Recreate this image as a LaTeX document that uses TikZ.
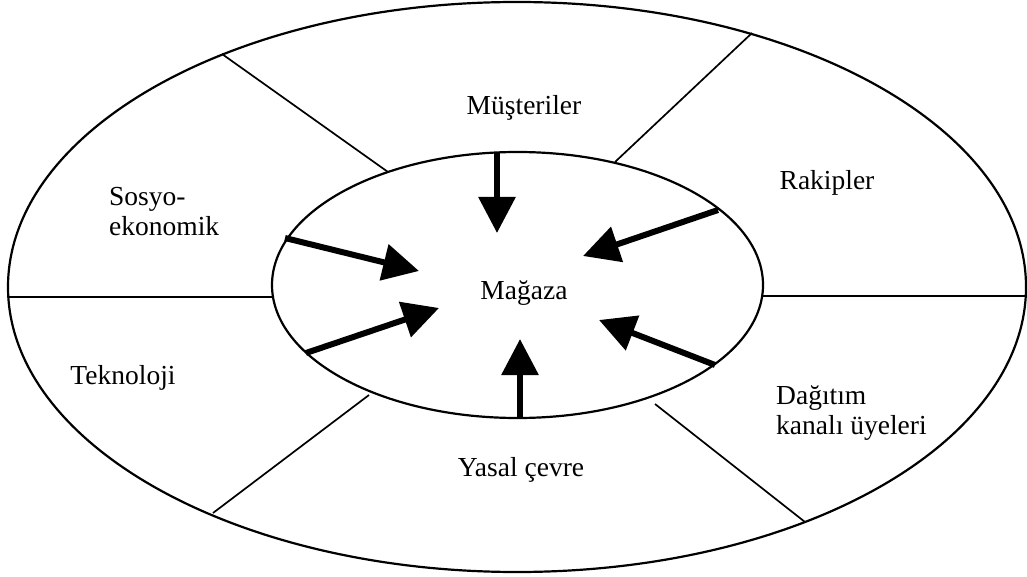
\documentclass[tikz,border=0pt]{standalone}
\usepackage{fontspec}
\setmainfont{Liberation Serif}
\usetikzlibrary{arrows.meta}
\begin{document}
\begin{tikzpicture}[x=1pt,y=-1pt,
  ring/.style={line width=2.2pt},
  divider/.style={line width=1.7pt},
  force/.style={line width=6pt,-{Triangle[length=36pt,width=36pt]}},
  lbl/.style={font=\fontsize{27.5}{30}\selectfont,align=left,inner sep=0pt}]
\useasboundingbox (0,0) rectangle (1027,577);
% ellipses
\draw[ring] (517,287) ellipse [x radius=509, y radius=285];
\draw[ring] (517.5,285) ellipse [x radius=245.5, y radius=133];
% divider end points
\coordinate (tlo) at (222,54);
\coordinate (tli) at (388,172);
\coordinate (tro) at (752,33);
\coordinate (tri) at (615,162);
\coordinate (lo) at (8,297);
\coordinate (li) at (272,297);
\coordinate (ri) at (763,296);
\coordinate (ro) at (1026,296);
\coordinate (blo) at (213,513);
\coordinate (bli) at (369,395);
\coordinate (bri) at (655,404);
\coordinate (bro) at (805,522);
\draw[divider] (tlo) -- (tli);
\draw[divider] (tro) -- (tri);
\draw[divider] (lo) -- (li);
\draw[divider] (ri) -- (ro);
\draw[divider] (blo) -- (bli);
\draw[divider] (bri) -- (bro);
% labels
\node[lbl] (mus) at (524,108) {Müşteriler};
\node[lbl] (rak) at (827,183) {Rakipler};
\node[lbl,anchor=west] (sos) at (109,212) {Sosyo-\\ekonomik};
\node[lbl] (tek) at (123,378) {Teknoloji};
\node[lbl,anchor=west] (dag) at (776,413) {Dağıtım\\kanalı üyeleri};
\node[lbl] (yas) at (521,470) {Yasal çevre};
\node[lbl] (mag) at (524,293) {Mağaza};
% arrows
\coordinate (a1s) at (497,152);
\coordinate (a1t) at (497,233);
\coordinate (a2s) at (718,210);
\coordinate (a2t) at (583,256);
\coordinate (a3s) at (715,365);
\coordinate (a3t) at (599,320);
\coordinate (a4s) at (520,419);
\coordinate (a4t) at (520,339);
\coordinate (a5s) at (285,238);
\coordinate (a5t) at (419,271);
\coordinate (a6s) at (306,353);
\coordinate (a6t) at (439,308);
\draw[force] (a1s) -- (a1t);
\draw[force] (a2s) -- (a2t);
\draw[force] (a3s) -- (a3t);
\draw[force] (a4s) -- (a4t);
\draw[force] (a5s) -- (a5t);
\draw[force] (a6s) -- (a6t);
\end{tikzpicture}
\end{document}
